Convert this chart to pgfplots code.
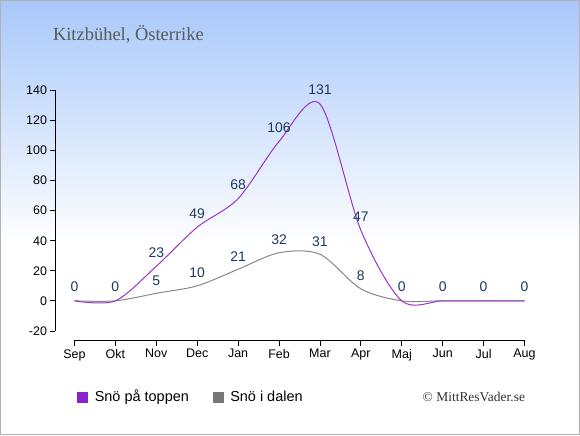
\documentclass[border=0pt]{standalone}
\usepackage{pgfplots}
\pgfplotsset{compat=1.18}
\usepackage{fontspec}
\setmainfont{Liberation Sans}
\newfontfamily\seriffont{Liberation Serif}
\definecolor{topc}{RGB}{153,51,204}
\definecolor{topleg}{RGB}{136,34,204}
\definecolor{valc}{RGB}{136,136,136}
\definecolor{valleg}{RGB}{119,119,119}
\definecolor{labc}{RGB}{31,56,96}
\definecolor{bgtop}{RGB}{168,200,250}
\begin{document}
\begin{tikzpicture}
\fill[white] (0pt,0pt) rectangle (580pt,435pt);
\shade[top color=bgtop, bottom color=white] (0pt,190pt) rectangle (580pt,435pt);
\draw[gray!60, line width=1.2pt] (0pt,0pt) rectangle (580pt,435pt);
\node[anchor=west, text=black!65, font=\seriffont\fontsize{18.5}{21}\selectfont] at (49pt,401pt) {Kitzbühel, Österrike};
\begin{axis}[
  at={(55pt,94pt)}, anchor=south west,
  scale only axis, width=470pt, height=251pt,
  xmin=-0.4634, xmax=11, ymin=-26.64, ymax=140,
  axis line style={draw=none},
  xtick={0,...,11},
  xticklabels={Sep,Okt,Nov,Dec,Jan,Feb,Mar,Apr,Maj,Jun,Jul,Aug},
  ytick={-20,0,...,140},
  xtick pos=bottom, ytick pos=left, tick align=outside,
  major tick length=5pt,
  tick style={black, line width=0.8pt},
  ticklabel style={font=\fontsize{12.5}{14}\selectfont, text=black},
  /pgf/number format/assume math mode=true,
  clip=false,
  legend style={at={(0.04,-0.223)}, anchor=west, draw=none, fill=none,
    font=\fontsize{14.5}{16}\selectfont, legend columns=2,
    /tikz/every even column/.append style={column sep=22pt},
    /tikz/every odd column/.append style={column sep=5pt}},
  legend cell align=left,
]
\draw[black, line width=0.8pt] (axis cs:-0.4634,140) -- (axis cs:-0.4634,-20);
\draw[black, line width=0.8pt] (axis cs:0,-26.64) -- (axis cs:11,-26.64);
\addlegendimage{legend image code/.code={\fill[topleg] (0pt,-5pt) rectangle (10pt,5pt);}}
\addlegendentry{Snö på toppen}
\addlegendimage{legend image code/.code={\fill[valleg] (0pt,-5pt) rectangle (10pt,5pt);}}
\addlegendentry{Snö i dalen}
\addplot[valc, line width=1pt, smooth, tension=0.5, forget plot]
  coordinates {(0,0) (1,0) (2,5) (3,10) (4,21) (5,32) (6,31) (7,8) (8,0) (9,0) (10,0) (11,0)};
\addplot[draw=none, nodes near coords,
  every node near coord/.append style={anchor=center, yshift=13pt, text=labc, font=\fontsize{14}{16}\selectfont}, forget plot]
  coordinates {(2,5) (3,10) (4,21) (5,32) (6,31) (7,8)};
\addplot[topc, line width=1pt, smooth, tension=0.5, nodes near coords,
  every node near coord/.append style={anchor=center, yshift=14pt, text=labc, font=\fontsize{14}{16}\selectfont}, forget plot]
  coordinates {(0,0) (1,0) (2,23) (3,49) (4,68) (5,106) (6,131) (7,47) (8,0) (9,0) (10,0) (11,0)};
\end{axis}
\node[anchor=east, text=black!80, font=\seriffont\fontsize{13.5}{15}\selectfont] at (529pt,38pt) {© MittResVader.se};
\end{tikzpicture}
\end{document}
